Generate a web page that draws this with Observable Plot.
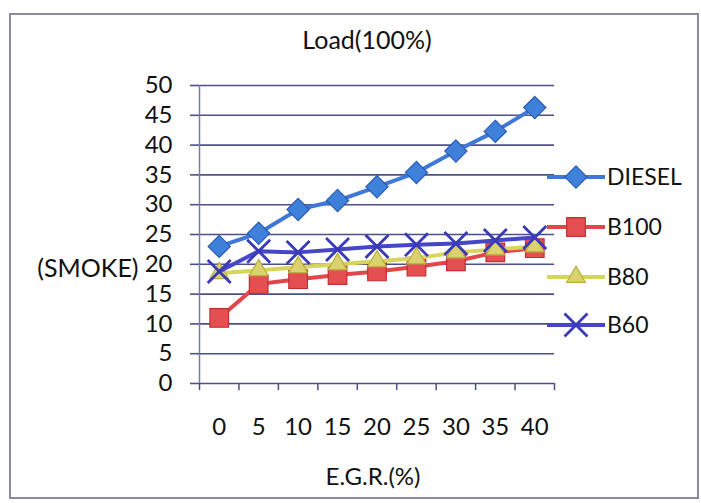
<!DOCTYPE html>
<html>
<head>
<meta charset="utf-8">
<script src="https://cdn.jsdelivr.net/npm/d3@7"></script>
<script src="https://cdn.jsdelivr.net/npm/@observablehq/plot@0.6"></script>
<style>
  html, body { margin: 0; padding: 0; background: #fff; }
  #wrap { position: relative; width: 701px; height: 503px; font-family: Lato, "Open Sans", sans-serif; }
  #border { position: absolute; left: 9px; top: 13px; width: 690px; height: 486px; border: 2px solid #8a8c9c; box-sizing: border-box; pointer-events: none; }
  #legend { position: absolute; left: 0; top: 0; pointer-events: none; }
</style>
</head>
<body>
<div id="wrap"><div id="border"></div></div>
<script>
const categories = [0, 5, 10, 15, 20, 25, 30, 35, 40];
const seriesNames = ["DIESEL", "B100", "B80", "B60"];
const diesel = [23, 25.2, 29.2, 30.7, 33, 35.4, 39, 42.3, 46.3];
const b100 = [11, 16.7, 17.5, 18.2, 18.8, 19.6, 20.5, 22, 22.7];
const b80 = [18.5, 19, 19.5, 20, 20.5, 21, 22, 22.5, 23];
const b60 = [18.8, 22.2, 22, 22.5, 23, 23.3, 23.5, 24, 24.5];
const yTicks = [0, 5, 10, 15, 20, 25, 30, 35, 40, 45, 50];
const title = "Load(100%)";
const xLabel = "E.G.R.(%)";
const yLabel = "(SMOKE)";

const styles = {
  DIESEL: {line: "#3f78d8", fill: "#3f80da", stroke: "#2a5cb4", symbol: "diamond2", r: 10},
  B100:   {line: "#e2464a", fill: "#e45052", stroke: "#c02e32", symbol: "square", r: 10.5},
  B80:    {line: "#d8d55c", fill: "#d9d26e", stroke: "#b8b040", symbol: "triangle", r: 7},
  B60:    {line: "#4646c8", fill: "none", stroke: "#3a3ab8", symbol: "times", r: 10.5}
};

const values = {DIESEL: diesel, B100: b100, B80: b80, B60: b60};
const rows = seriesNames.flatMap(s => categories.map((c, i) => ({series: s, x: c, y: values[s][i]})));
const half = (categories[1] - categories[0]) / 2;
const bounds = [...categories.map(c => c - half), categories[categories.length - 1] + half];

const gridColor = "#4d5088";
const font = "Lato, 'Open Sans', sans-serif";

const marks = [
  Plot.ruleY(yTicks, {stroke: gridColor, strokeWidth: 1.6}),
  Plot.ruleX([bounds[0]], {y1: 0, y2: yTicks[yTicks.length - 1], stroke: "#7a7ca0", strokeWidth: 1.5}),
  Plot.ruleX(bounds, {y1: 0, y2: -1.2, stroke: gridColor, strokeWidth: 1.5}),
  Plot.axisY(yTicks, {tickSize: 9, tickPadding: 18, stroke: gridColor, strokeWidth: 1.6, fontSize: 24, fill: "#111", label: null}),
  Plot.axisX(categories, {tickSize: 0, tickPadding: 34, fontSize: 24, fill: "#111", label: null}),
];
for (const s of seriesNames) {
  const st = styles[s];
  const data = rows.filter(d => d.series === s);
  marks.push(Plot.line(data, {x: "x", y: "y", stroke: st.line, strokeWidth: 4}));
  marks.push(Plot.dot(data, {x: "x", y: "y", symbol: () => st.symbol, r: st.r, fill: st.fill, stroke: st.stroke,
    strokeWidth: s === "B60" ? 2.8 : 1.2}));
}
marks.push(Plot.text([title], {frameAnchor: "top", dy: -54, dx: -10, fontSize: 25, fill: "#111"}));
marks.push(Plot.text([xLabel], {frameAnchor: "bottom", dy: 101, dx: -4, fontSize: 24, fill: "#111"}));
marks.push(Plot.text([yLabel], {frameAnchor: "left", textAnchor: "end", dx: -61, dy: 34, fontSize: 25, fill: "#111"}));

const chart = Plot.plot({
  width: 701,
  height: 503,
  marginTop: 85,
  marginBottom: 120,
  marginLeft: 199,
  marginRight: 147,
  style: {fontFamily: font, background: "transparent", overflow: "visible"},
  x: {domain: [bounds[0], bounds[bounds.length - 1]], axis: null},
  y: {domain: [yTicks[0], yTicks[yTicks.length - 1]], axis: null},
  marks
});
const wrap = document.getElementById("wrap");
wrap.insertBefore(chart, wrap.firstChild);

// legend
const legendY = [177, 227, 277, 325];
const lsvg = d3.select(wrap).append("svg").attr("id", "legend").attr("width", 701).attr("height", 503);
const symMap = {diamond2: d3.symbolDiamond2, square: d3.symbolSquare, triangle: d3.symbolTriangle, times: d3.symbolTimes};
seriesNames.forEach((s, i) => {
  const st = styles[s];
  const g = lsvg.append("g").attr("transform", `translate(0,${legendY[i]})`);
  g.append("line").attr("x1", 547).attr("x2", 605).attr("stroke", st.line).attr("stroke-width", 4);
  g.append("path").attr("transform", "translate(576,0)")
    .attr("d", d3.symbol(symMap[st.symbol], Math.PI * st.r * st.r)())
    .attr("fill", st.fill).attr("stroke", st.stroke).attr("stroke-width", s === "B60" ? 2.8 : 1.2);
  g.append("text").attr("x", 607).attr("dy", "0.36em").attr("font-size", 23).attr("fill", "#111")
    .attr("font-family", font).text(s);
});
</script>
</body>
</html>
